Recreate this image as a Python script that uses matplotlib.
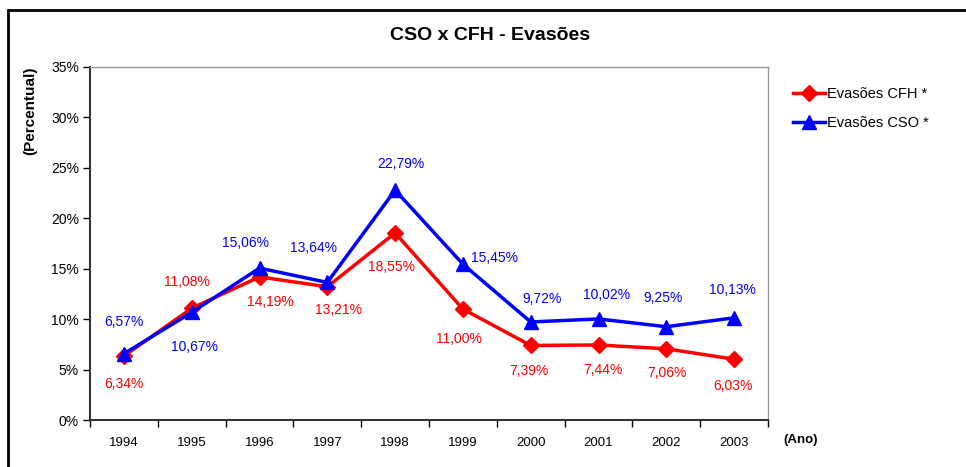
import matplotlib
matplotlib.use("Agg")
import matplotlib.pyplot as plt
from matplotlib.patches import Rectangle

plt.rcParams['font.family'] = ['Liberation Sans', 'DejaVu Sans']

years = ['1994', '1995', '1996', '1997', '1998', '1999', '2000', '2001', '2002', '2003']
cfh = [6.34, 11.08, 14.19, 13.21, 18.55, 11.00, 7.39, 7.44, 7.06, 6.03]
cso = [6.57, 10.67, 15.06, 13.64, 22.79, 15.45, 9.72, 10.02, 9.25, 10.13]
y_ticks = [0, 5, 10, 15, 20, 25, 30, 35]

# label offsets in pixels (dx, dy; positive dy = upward)
cfh_off = [(0, -28), (-5, 26), (11, -25), (11, -23), (-4, -34), (-4, -30),
           (-2, -26), (4, -25), (1, -24), (-1, -27)]
cso_off = [(0, 32), (3, -35), (-14, 25), (-14, 34), (6, 26), (32, 6),
           (11, 23), (8, 24), (-3, 29), (-2, 28)]

W, H = 966, 467
fig = plt.figure(figsize=(W / 100, H / 100), dpi=100)
ax = fig.add_axes([90 / W, 1 - 420 / H, 678 / W, 353 / H])

x = list(range(len(years)))
ax.plot(x, cfh, color='#FF0000', lw=2.5, marker='D', ms=8, label='Evasões CFH *', zorder=3)
ax.plot(x, cso, color='#0000FF', lw=2.5, marker='^', ms=10, label='Evasões CSO *', zorder=4)

def fmt(v):
    return f"{v:.2f}%".replace('.', ',')

for i, (v, off) in enumerate(zip(cfh, cfh_off)):
    ax.annotate(fmt(v), (i, v), xytext=off, textcoords='offset pixels',
                ha='center', va='center', color='#FF0000', fontsize=10)
for i, (v, off) in enumerate(zip(cso, cso_off)):
    ax.annotate(fmt(v), (i, v), xytext=off, textcoords='offset pixels',
                ha='center', va='center', color='#0000FF', fontsize=10)

ax.set_xlim(-0.5, len(years) - 0.5)
ax.set_ylim(0, 35)
ax.set_yticks(y_ticks)
ax.set_yticklabels([f"{t}%" for t in y_ticks], fontsize=10)
ax.set_xticks(x)
ax.set_xticklabels(years, fontsize=9.5)
ax.set_xticks([i - 0.5 for i in range(len(years) + 1)], minor=True)
ax.tick_params(axis='x', which='major', length=0, pad=12)
ax.tick_params(axis='x', which='minor', length=5, width=1, direction='out')
ax.tick_params(axis='y', length=5, width=1, direction='out', pad=3)

for s in ['left', 'bottom']:
    ax.spines[s].set_color('#333333')
    ax.spines[s].set_linewidth(1.5)
for s in ['top', 'right']:
    ax.spines[s].set_color('#999999')
    ax.spines[s].set_linewidth(1)

fig.text(490 / W, 1 - 36 / H, 'CSO x CFH - Evasões', ha='center', va='center',
         fontsize=14, fontweight='bold')
fig.text(30 / W, 1 - 111 / H, '(Percentual)', ha='center', va='center',
         rotation=90, fontsize=11, fontweight='bold')
fig.text(801 / W, 1 - 440 / H, '(Ano)', ha='center', va='center',
         fontsize=9.5, fontweight='bold')

leg = fig.legend(loc='upper left', bbox_to_anchor=(780 / W, 1 - 74 / H), frameon=False,
                 fontsize=10.5, handlelength=2.2, handletextpad=0.1, labelspacing=1.05)

fig.add_artist(Rectangle((8 / W, -0.2), 2, 1.2 - 10 / H, transform=fig.transFigure,
                         fill=False, edgecolor='black', lw=2))

fig.savefig('out.png', dpi=100)
